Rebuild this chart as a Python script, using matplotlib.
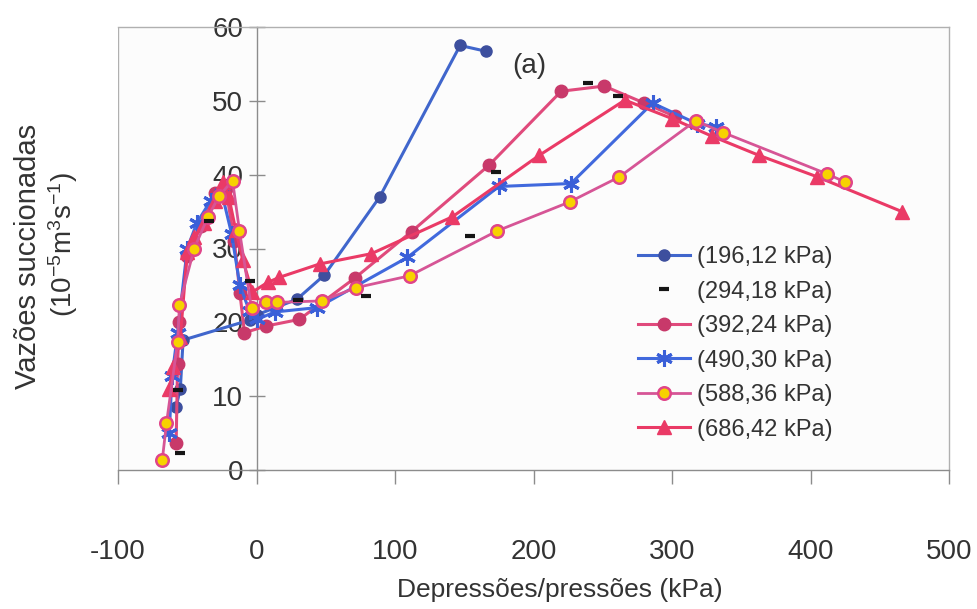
import matplotlib
matplotlib.use("Agg")
import matplotlib.pyplot as plt
from matplotlib.lines import Line2D

plt.rcParams['font.family'] = ['Liberation Sans', 'DejaVu Sans']
plt.rcParams['mathtext.fontset'] = 'custom'
plt.rcParams['mathtext.rm'] = 'Liberation Sans'
plt.rcParams['mathtext.it'] = 'Liberation Sans:italic'

# ---- data ----
labels = ["(196,12 kPa)", "(294,18 kPa)", "(392,24 kPa)",
          "(490,30 kPa)", "(588,36 kPa)", "(686,42 kPa)"]

x196 = [-58, -55, -53, -5, 0, 29, 49, 89, 147, 166]
y196 = [8.6, 11.0, 17.6, 20.3, 21.0, 23.1, 26.4, 37.0, 57.5, 56.7]

x294 = [-55, -57, -34, -5, 30, 79, 154, 173, 239, 261]
y294 = [2.3, 10.9, 33.7, 25.6, 23.0, 23.5, 31.7, 40.4, 52.4, 50.6]

x392 = [-58, -57, -55.6, -50, -40, -30, -22, -16, -12, -8.7, 7, 31, 71, 112, 168, 220, 251, 280, 302]
y392 = [3.7, 14.3, 20.1, 29.0, 33.0, 37.5, 38.0, 31.0, 24.0, 18.6, 19.5, 20.4, 26.0, 32.3, 41.3, 51.3, 52.0, 49.7, 47.9]

x490 = [-63, -61, -57, -50, -43, -33, -25, -18, -12, -5, 0.7, 13, 44, 109, 175, 227, 286, 318, 332]
y490 = [5.0, 12.7, 18.5, 30.0, 33.5, 36.5, 37.5, 32.0, 25.0, 21.5, 20.4, 21.4, 22.0, 28.8, 38.4, 38.8, 49.7, 46.9, 46.5]

x588 = [-68, -65, -57, -55.6, -45, -35, -27, -17.3, -12.3, -3.6, 7, 15, 47, 72, 110.5, 174, 226, 262, 317, 337, 412, 425]
y588 = [1.4, 6.3, 17.3, 22.4, 30.0, 34.3, 37.1, 39.2, 32.4, 21.9, 22.7, 22.7, 22.9, 24.7, 26.3, 32.4, 36.3, 39.7, 47.3, 45.7, 40.1, 39.0]

x686 = [-63, -60, -55, -50, -45, -38, -30, -24, -20, -15, -10, -3, 8, 16.6, 45.5, 83, 141.5, 204, 266, 300, 329, 363, 405, 466]
y686 = [11.0, 14.0, 18.0, 29.5, 31.5, 33.5, 36.5, 39.0, 37.0, 32.5, 28.5, 24.1, 25.4, 26.1, 27.9, 29.3, 34.3, 42.6, 50.1, 47.6, 45.2, 42.6, 39.7, 35.0]

xticks = [-100, 0, 100, 200, 300, 400, 500]
yticks = [0, 10, 20, 30, 40, 50, 60]

# ---- figure ----
W, H = 978, 609
fig = plt.figure(figsize=(W / 100, H / 100), dpi=100)
fig.patch.set_facecolor('white')
ax = fig.add_axes([118 / W, 1 - 470 / H, (949 - 118) / W, (470 - 27) / H])
ax.set_facecolor('#fcfcfc')
ax.set_xlim(-100, 500)
ax.set_ylim(0, 60)

txt = '#333333'
axc = '#8c8c8c'

s1, = ax.plot(x196, y196, '-', color='#4066cc', lw=2.2, marker='o', ms=8,
              mfc='#3d4f9e', mec='#3d4f9e', zorder=3)
s2, = ax.plot(x294, y294, ls='none', marker='_', ms=7, mew=3, color='#151515', zorder=6)
s3, = ax.plot(x392, y392, '-', color='#e04a7c', lw=2.2, marker='o', ms=9,
              mfc='#c8396a', mec='#c8396a', zorder=3)
s4, = ax.plot(x490, y490, '-', color='#4169dd', lw=2.2, marker=(6, 2, 0), ms=12,
              mec='#3a5fd8', mew=2.2, zorder=4)
s5, = ax.plot(x588, y588, '-', color='#d65596', lw=2.0, marker='o', ms=9,
              mfc='#f7d200', mec='#e0458a', mew=1.8, zorder=5)
s6, = ax.plot(x686, y686, '-', color='#ea3a66', lw=2.2, marker='^', ms=10,
              mfc='#ea3a66', mec='#ea3a66', zorder=4)

# frame / axes
for side in ['top', 'right', 'bottom']:
    ax.spines[side].set_color('#b0b0b0')
    ax.spines[side].set_linewidth(1.0)
ax.spines['left'].set_position(('data', 0))
ax.spines['left'].set_color(axc)
ax.spines['left'].set_linewidth(1.0)
ax.spines['bottom'].set_color(axc)
ax.axvline(-100, color='#b0b0b0', lw=1.0, zorder=1)

ax.set_xticks(xticks)
ax.set_yticks(yticks)
ax.tick_params(axis='x', direction='out', length=10, width=1, color=axc,
               labelsize=20, labelcolor=txt, pad=40)
ax.tick_params(axis='y', direction='inout', length=11, width=1, color=axc,
               labelsize=20, labelcolor=txt, pad=4)
ax.set_xticklabels([str(v) for v in xticks])

# labels
fig.text(560 / W, 1 - 590 / H, 'Depressões/pressões (kPa)', ha='center', va='center',
         fontsize=19, color=txt)
fig.text(28 / W, 1 - 256 / H, 'Vazões succionadas', ha='center', va='center',
         rotation=90, fontsize=21, color=txt)
fig.text(63 / W, 1 - 245 / H, r'(10$^{-5}$m$^{3}$s$^{-1}$)', ha='center', va='center',
         rotation=90, fontsize=20, color=txt)
ax.text(197, 54.7, '(a)', fontsize=20, color=txt, ha='center', va='center')

# legend
h2 = Line2D([], [], ls='none', marker='_', ms=7, mew=3, color='#151515')
leg = ax.legend([s1, h2, s3, s4, s5, s6], labels,
                loc='upper left', bbox_to_anchor=(638 / W, 1 - 246 / H),
                bbox_transform=fig.transFigure, frameon=False, fontsize=17,
                handlelength=2.2, handletextpad=0.3, labelspacing=0.53,
                borderaxespad=0, borderpad=0)
for t in leg.get_texts():
    t.set_color(txt)

fig.savefig('out.png', dpi=100, facecolor='white')
